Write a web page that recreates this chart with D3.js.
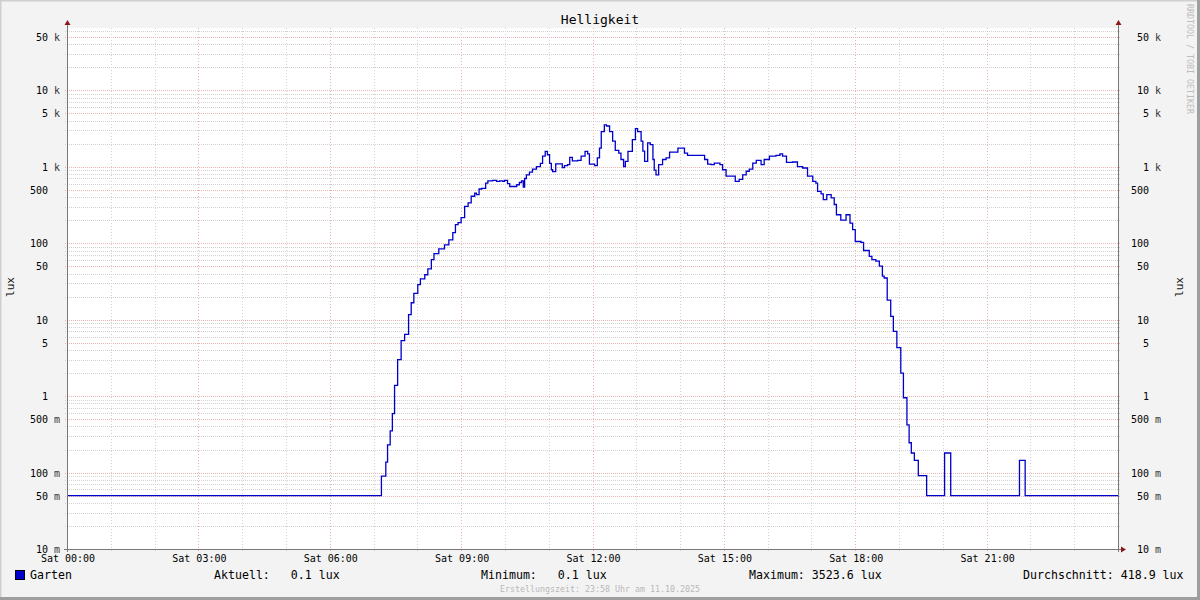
<!DOCTYPE html>
<html>
<head>
<meta charset="utf-8">
<script src="https://cdn.jsdelivr.net/npm/d3@7"></script>
<style>
  html, body { margin: 0; padding: 0; background: #f3f3f3; }
  svg { display: block; }
  text { font-family: "DejaVu Sans Mono", monospace; white-space: pre; }
</style>
</head>
<body>
<svg id="chart" width="1200" height="600"></svg>
<script>
// ---- data ----
const title = "Helligkeit";
const seriesName = "Garten";
const unit = "lux";
const hours = [0.00, 7.18, 7.28, 7.32, 7.38, 7.43, 7.48, 7.55, 7.63, 7.71, 7.80, 7.86, 7.92, 8.01, 8.07, 8.17, 8.24, 8.32, 8.38, 8.49, 8.62, 8.72, 8.81, 8.87, 8.93, 9.00, 9.08, 9.16, 9.23, 9.31, 9.35, 9.41, 9.47, 9.56, 9.61, 9.72, 9.81, 9.88, 9.95, 9.99, 10.06, 10.11, 10.22, 10.27, 10.33, 10.38, 10.42, 10.45, 10.49, 10.56, 10.63, 10.72, 10.81, 10.86, 10.92, 10.97, 11.02, 11.06, 11.09, 11.16, 11.25, 11.31, 11.36, 11.43, 11.48, 11.54, 11.66, 11.74, 11.83, 11.89, 11.93, 12.05, 12.11, 12.16, 12.20, 12.27, 12.32, 12.39, 12.46, 12.52, 12.60, 12.65, 12.71, 12.75, 12.81, 12.91, 12.98, 13.03, 13.11, 13.15, 13.19, 13.26, 13.32, 13.38, 13.41, 13.45, 13.51, 13.60, 13.68, 13.76, 13.87, 13.95, 14.04, 14.10, 14.17, 14.44, 14.56, 14.63, 14.71, 14.78, 14.91, 14.97, 15.05, 15.18, 15.26, 15.35, 15.43, 15.51, 15.58, 15.66, 15.74, 15.85, 15.92, 16.04, 16.19, 16.28, 16.34, 16.43, 16.57, 16.68, 16.80, 16.91, 17.03, 17.10, 17.14, 17.22, 17.27, 17.35, 17.45, 17.52, 17.57, 17.67, 17.79, 17.88, 17.94, 18.00, 18.13, 18.19, 18.32, 18.38, 18.47, 18.55, 18.62, 18.66, 18.73, 18.81, 18.87, 18.95, 19.04, 19.10, 19.18, 19.23, 19.28, 19.35, 19.44, 19.63, 20.04, 20.18, 21.75, 21.88, 24.00];
const lux = [0.05, 0.09, 0.137, 0.23, 0.35, 0.59, 1.38, 3.0, 5.3, 6.4, 11.6, 16.6, 22, 28.7, 34, 38.6, 46, 61, 73, 84, 95, 110, 137, 175, 185, 215, 303, 335, 410, 450, 430, 510, 520, 610, 650, 660, 640, 650, 640, 660, 600, 550, 550, 580, 620, 650, 540, 700, 780, 850, 930, 1000, 1100, 1370, 1580, 1430, 1100, 910, 860, 1090, 1090, 970, 1030, 1060, 1320, 1190, 1210, 1370, 1580, 1470, 1080, 1030, 1300, 1750, 2870, 3520, 3400, 2870, 2150, 1630, 1500, 1240, 1000, 1170, 1580, 2250, 3140, 2870, 2150, 1600, 1170, 2040, 1940, 1240, 900, 780, 1060, 1240, 1300, 1550, 1550, 1750, 1750, 1500, 1400, 1400, 1240, 1080, 1060, 1110, 1060, 910, 750, 750, 640, 680, 780, 870, 930, 1110, 1210, 1060, 1240, 1370, 1400, 1470, 1370, 1140, 1150, 1000, 960, 750, 640, 610, 475, 440, 370, 430, 390, 320, 235, 200, 235, 183, 150, 105, 102, 80, 67, 61, 58, 50, 37, 35, 18, 11, 7, 4.3, 2.0, 0.95, 0.42, 0.245, 0.18, 0.144, 0.091, 0.05, 0.18, 0.05, 0.144, 0.05, 0.05];
const xTickHours = [0, 3, 6, 9, 12, 15, 18, 21];
const xTickLabels = ["Sat 00:00", "Sat 03:00", "Sat 06:00", "Sat 09:00", "Sat 12:00", "Sat 15:00", "Sat 18:00", "Sat 21:00"];
const yTickValues = [0.01, 0.05, 0.1, 0.5, 1, 5, 10, 50, 100, 500, 1000, 5000, 10000, 50000];
const yTickNumbers = ["10", "50", "100", "500", "1", "5", "10", "50", "100", "500", "1", "5", "10", "50"];
const yTickSuffix = ["m", "m", "m", "m", "", "", "", "", "", "", "k", "k", "k", "k"];
const legendStats = [
  {label: "Aktuell:   0.1 lux", x: 214},
  {label: "Minimum:   0.1 lux", x: 481},
  {label: "Maximum: 3523.6 lux", x: 749},
  {label: "Durchschnitt: 418.9 lux", x: 1023}
];
const footer = "Erstellungszeit: 23:58 Uhr am 11.10.2025";
const watermark = "RRDTOOL / TOBI OETIKER";

// ---- layout ----
const W = 1200, H = 600;
const L = 67, R = 1118, T = 28, B = 549;
const svg = d3.select("#chart");

const x = d3.scaleLinear().domain([0, 24]).range([L, R]);
const y = d3.scaleLog().domain([0.01, 65000]).range([B, T]);

// background + 3D border
svg.append("rect").attr("x", 0).attr("y", 0).attr("width", W).attr("height", H).attr("fill", "#f3f3f3");
svg.append("path").attr("d", `M0.5,${H} V0.5 H${W}`).attr("stroke", "#cfcfcf").attr("stroke-width", 2).attr("fill", "none");
svg.append("path").attr("d", `M${W-1.5},0 V${H-1.5} H0`).attr("stroke", "#9e9e9e").attr("stroke-width", 3).attr("fill", "none");

// canvas
svg.append("rect").attr("x", L).attr("y", T).attr("width", R - L).attr("height", B - T).attr("fill", "#ffffff");

const grid = svg.append("g");
const minorCol = "#d2d2d2", majorCol = "#ebb3b3";

// horizontal grid lines
const yMinor = [], yMajor = [];
for (let e = -2; e <= 4; e++) {
  for (let m = 1; m <= 9; m++) {
    const v = m * Math.pow(10, e);
    if (v > 65000) continue;
    if (m === 1 || m === 5) yMajor.push(v); else yMinor.push(v);
  }
}
grid.selectAll(".hmin").data(yMinor).join("line")
  .attr("x1", L - 2).attr("x2", R + 2)
  .attr("y1", d => Math.round(y(d)) + 0.5).attr("y2", d => Math.round(y(d)) + 0.5)
  .attr("stroke", minorCol).attr("stroke-dasharray", "1,1");
grid.selectAll(".hmaj").data(yMajor).join("line")
  .attr("x1", L - 2).attr("x2", R + 2)
  .attr("y1", d => Math.round(y(d)) + 0.5).attr("y2", d => Math.round(y(d)) + 0.5)
  .attr("stroke", majorCol).attr("stroke-dasharray", "1,1");

// vertical grid lines
const xMinor = d3.range(1, 24).filter(h => h % 3 !== 0);
const xMajor = d3.range(3, 24, 3);
grid.selectAll(".vmin").data(xMinor).join("line")
  .attr("x1", d => Math.round(x(d)) + 0.5).attr("x2", d => Math.round(x(d)) + 0.5)
  .attr("y1", T).attr("y2", B + 2)
  .attr("stroke", minorCol).attr("stroke-dasharray", "1,2");
grid.selectAll(".vmaj").data(xMajor).join("line")
  .attr("x1", d => Math.round(x(d)) + 0.5).attr("x2", d => Math.round(x(d)) + 0.5)
  .attr("y1", T).attr("y2", B + 3)
  .attr("stroke", majorCol).attr("stroke-dasharray", "1,2");

// data line
const data = hours.map((h, i) => [h, lux[i]]);
svg.append("path")
  .datum(data)
  .attr("fill", "none")
  .attr("stroke", "#0000cc")
  .attr("stroke-width", 1.3)
  .attr("d", d3.line().x(d => x(d[0])).y(d => y(d[1])).curve(d3.curveStepAfter));

// axes
const axisCol = "#777777", arrowCol = "#8b1a1a";
svg.append("line").attr("x1", L + 0.5).attr("x2", L + 0.5).attr("y1", B + 3).attr("y2", T - 4).attr("stroke", axisCol);
svg.append("line").attr("x1", R + 0.5).attr("x2", R + 0.5).attr("y1", B + 3).attr("y2", T - 4).attr("stroke", axisCol);
svg.append("line").attr("x1", L - 3).attr("x2", R + 4).attr("y1", B + 0.5).attr("y2", B + 0.5).attr("stroke", axisCol);
svg.append("path").attr("d", `M${L+0.5},${T-8} L${L-2.5},${T-3} L${L+3.5},${T-3} Z`).attr("fill", arrowCol);
svg.append("path").attr("d", `M${R+0.5},${T-8} L${R-2.5},${T-3} L${R+3.5},${T-3} Z`).attr("fill", arrowCol);
svg.append("path").attr("d", `M${R+8},${B+0.5} L${R+3},${B-2.5} L${R+3},${B+3.5} Z`).attr("fill", arrowCol);

// y tick labels (left + right)
const yl = svg.append("g").attr("font-size", "10px").attr("fill", "#000");
yTickValues.forEach((v, i) => {
  const yy = Math.round(y(v)) + 4;
  yl.append("text").attr("x", 48).attr("y", yy).attr("text-anchor", "end").text(yTickNumbers[i]);
  yl.append("text").attr("x", 54).attr("y", yy).attr("fill", "#333").text(yTickSuffix[i]);
  yl.append("text").attr("x", 1149).attr("y", yy).attr("text-anchor", "end").text(yTickNumbers[i]);
  yl.append("text").attr("x", 1155).attr("y", yy).attr("fill", "#333").text(yTickSuffix[i]);
});

// x tick labels
const xl = svg.append("g").attr("font-size", "10px").attr("fill", "#000");
xTickHours.forEach((h, i) => {
  xl.append("text").attr("x", x(h) + 1).attr("y", 562).attr("text-anchor", "middle").text(xTickLabels[i]);
});

// title
svg.append("text").attr("x", 600).attr("y", 24).attr("text-anchor", "middle")
  .attr("font-size", "13px").attr("fill", "#000").text(title);

// vertical axis titles
svg.append("text").attr("transform", "translate(14,287) rotate(-90)").attr("text-anchor", "middle")
  .attr("font-size", "11px").attr("fill", "#111").text(unit);
svg.append("text").attr("transform", "translate(1183,287) rotate(-90)").attr("text-anchor", "middle")
  .attr("font-size", "11px").attr("fill", "#111").text(unit);

// watermark
svg.append("text").attr("transform", "translate(1187,4) rotate(90)")
  .attr("font-size", "8.3px").attr("fill", "#bdbdbd").text(watermark);

// legend
svg.append("rect").attr("x", 15.5).attr("y", 570.5).attr("width", 9).attr("height", 9)
  .attr("fill", "#0000cc").attr("stroke", "#000");
const lg = svg.append("g").attr("font-size", "11.6px").attr("fill", "#000");
lg.append("text").attr("x", 30).attr("y", 579).text(seriesName);
legendStats.forEach(s => {
  lg.append("text").attr("x", s.x).attr("y", 579).text(s.label);
});

// footer
svg.append("text").attr("x", 600).attr("y", 592).attr("text-anchor", "middle")
  .attr("font-size", "8.3px").attr("fill", "#b8b8b8").text(footer);
</script>
</body>
</html>
